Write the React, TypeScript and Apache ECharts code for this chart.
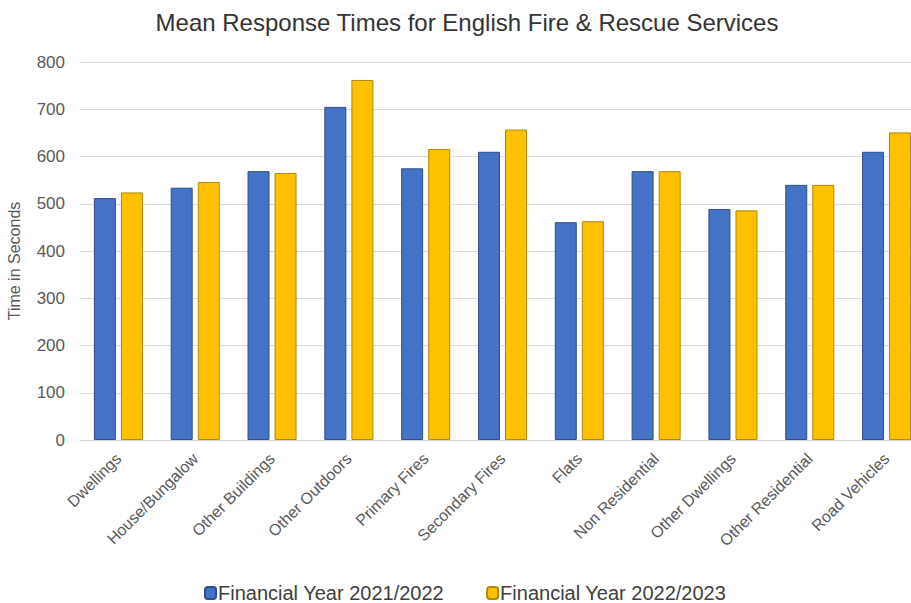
import React, { useEffect, useRef } from "react";
import * as echarts from "echarts";

const categories = [
  "Dwellings",
  "House/Bungalow",
  "Other Buildings",
  "Other Outdoors",
  "Primary Fires",
  "Secondary Fires",
  "Flats",
  "Non Residential",
  "Other Dwellings",
  "Other Residential",
  "Road Vehicles",
];
const seriesNames = ["Financial Year 2021/2022", "Financial Year 2022/2023"];
const fy2122 = [512, 534, 569, 705, 575, 610, 461, 569, 489, 540, 610];
const fy2223 = [524, 546, 565, 762, 616, 657, 463, 569, 486, 540, 651];

const FONT = "'Liberation Sans', Arial, sans-serif";

export default function App() {
  const ref = useRef<HTMLDivElement>(null);
  useEffect(() => {
    if (!ref.current) return;
    const chart = echarts.init(ref.current, undefined, { renderer: "svg" });
    chart.setOption({
      animation: false,
      backgroundColor: "#ffffff",
      textStyle: { fontFamily: FONT },
      title: {
        text: "Mean Response Times for English Fire & Rescue Services",
        left: 462,
        textAlign: "center",
        top: 5,
        textStyle: { fontFamily: FONT, fontSize: 24, fontWeight: "normal", color: "#333333" },
      },
      legend: {
        bottom: -5,
        left: 199,
        itemWidth: 11,
        itemHeight: 12,
        itemGap: 42,
        textStyle: { fontFamily: FONT, fontSize: 20, color: "#404040", padding: [0, 0, 0, -3] },
        data: seriesNames,
      },
      grid: { left: 80, right: -14, top: 62, bottom: 163, outerBoundsMode: "none", containLabel: false },
      xAxis: {
        type: "category",
        data: categories,
        axisTick: { show: false },
        axisLine: { lineStyle: { color: "#d0d0d0", width: 1 } },
        axisLabel: { rotate: 45, fontSize: 16, color: "#595959", fontFamily: FONT, margin: 16, interval: 0 },
      },
      yAxis: {
        type: "value",
        min: 0,
        max: 800,
        interval: 100,
        name: "Time in Seconds",
        nameLocation: "middle",
        nameGap: 58,
        nameTextStyle: { fontSize: 16, color: "#595959", fontFamily: FONT, padding: [0, 20, 0, 0] },
        axisLabel: { fontSize: 17, color: "#595959", fontFamily: FONT, margin: 15 },
        axisLine: { show: false },
        axisTick: { show: false },
        splitLine: { lineStyle: { color: "#dadada", width: 1 } },
      },
      series: [
        {
          name: seriesNames[0],
          type: "bar",
          data: fy2122,
          barWidth: 22,
          barGap: "23%",
          itemStyle: { color: "#4472C4", borderColor: "#2F4E8A", borderWidth: 1 },
        },
        {
          name: seriesNames[1],
          type: "bar",
          data: fy2223,
          barWidth: 22,
          itemStyle: { color: "#FFC000", borderColor: "#B08A00", borderWidth: 1 },
        },
      ],
    });
    return () => chart.dispose();
  }, []);
  return (
    <div
      ref={ref}
      style={{ position: "fixed", left: 0, top: 0, width: 911, height: 603 }}
    />
  );
}
